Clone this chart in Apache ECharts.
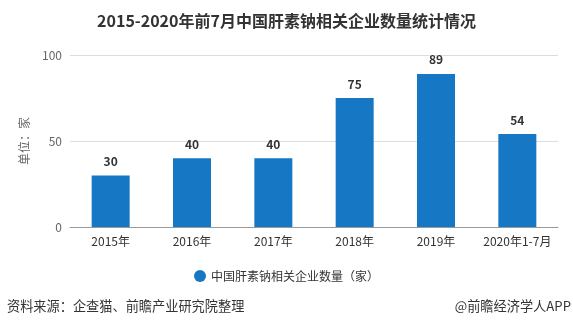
<!DOCTYPE html>
<html><head><meta charset="utf-8">
<script src="https://cdn.jsdelivr.net/npm/echarts@6/dist/echarts.min.js"></script>
<style>html,body{margin:0;padding:0;background:#fff;}#c{width:573px;height:327px;}</style>
</head><body><div id="c"></div>
<script>
const categories = ['2015年','2016年','2017年','2018年','2019年','2020年1-7月'];
const values = [30, 40, 40, 75, 89, 54];
const yTicks = [0, 50, 100];
const seriesName = '中国肝素钠相关企业数量（家）';
const titleText = '2015-2020年前7月中国肝素钠相关企业数量统计情况';
const sourceText = '资料来源：企查猫、前瞻产业研究院整理';
const brandText = '@前瞻经济学人APP';
const font = '"Microsoft YaHei","Noto Sans CJK SC",sans-serif';

const chart = echarts.init(document.getElementById('c'));
chart.setOption({
  backgroundColor: '#fff',
  textStyle: { fontFamily: font },
  title: {
    text: titleText, left: 'center', top: 8,
    textStyle: { fontSize: 16, fontWeight: 'bold', color: '#333', fontFamily: font }
  },
  legend: {
    data: [{ name: seriesName, icon: 'circle' }],
    left: 'center', top: 265, itemWidth: 12, itemHeight: 12, itemGap: 6,
    textStyle: { fontSize: 12, color: '#333', fontFamily: font }
  },
  graphic: [
    { type: 'text', left: 7, top: 299, style: { text: sourceText, fontSize: 13.2, fill: '#333', fontFamily: font } },
    { type: 'text', right: 2, top: 299, style: { text: brandText, fontSize: 13.2, fill: '#333', fontFamily: font } }
  ],
  grid: { left: 70, right: 15, top: 55, bottom: 100 },
  xAxis: {
    type: 'category', data: categories,
    axisLine: { lineStyle: { color: '#999' } },
    axisTick: { alignWithLabel: true, length: 5, lineStyle: { color: '#999' } },
    axisLabel: { interval: 0, fontSize: 12, color: '#333', margin: 8 }
  },
  yAxis: {
    type: 'value', min: yTicks[0], max: yTicks[yTicks.length - 1], interval: 50,
    name: '单位：家', nameLocation: 'middle', nameGap: 40, nameRotate: 90,
    nameTextStyle: { fontSize: 12, color: '#666' },
    axisLine: { show: false }, axisTick: { show: false },
    axisLabel: { fontSize: 12, color: '#666', margin: 8 },
    splitLine: { lineStyle: { color: '#ddd' } }
  },
  series: [{
    name: seriesName, type: 'bar', data: values, barWidth: 38,
    itemStyle: { color: '#1677c4' },
    label: { show: true, position: 'top', distance: 8, fontSize: 12, fontWeight: 'bold', color: '#333' }
  }]
});
</script></body></html>
